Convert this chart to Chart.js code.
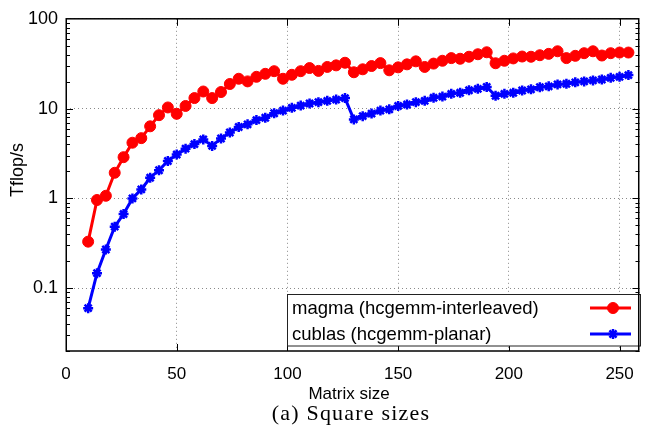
<!DOCTYPE html>
<html>
<head>
<meta charset="utf-8">
<script src="https://cdn.jsdelivr.net/npm/chart.js@4.4.1/dist/chart.umd.min.js"></script>
<style>
  html, body { margin: 0; padding: 0; background: #fff; }
  #contenedor { width: 647px; height: 443px; }
</style>
</head>
<body>
<div id="contenedor"><canvas id="grafica" width="647" height="443"></canvas></div>
<script>
// Tamaños de matriz (eje x)
const tamanos = [10, 14, 18, 22, 26, 30, 34, 38, 42, 46, 50, 54, 58, 62, 66, 70,
    74, 78, 82, 86, 90, 94, 98, 102, 106, 110, 114, 118, 122, 126, 130,
    134, 138, 142, 146, 150, 154, 158, 162, 166, 170, 174, 178, 182, 186, 190, 194,
    198, 202, 206, 210, 214, 218, 222, 226, 230, 234, 238, 242, 246, 250, 254];

// Tflop/s
const magma = [0.33, 0.96, 1.07, 1.93, 2.88, 4.17, 4.69, 6.35, 8.45, 10.3, 8.75, 10.7, 13.1, 15.5, 13.1, 15.3,
    18.8, 21.5, 20.1, 22.6, 24.4, 26.1, 21.5, 23.8, 26.1, 28.3, 26.3, 29.1, 30.3, 32.4, 25.4,
    27.4, 29.8, 32.1, 26.7, 28.8, 31.1, 33.6, 29.1, 31.7, 34.1, 36.5, 35.9, 37.8, 40.3, 42.4, 32.0,
    34.1, 36.2, 38.0, 37.8, 39.3, 40.7, 43.5, 36.5, 38.7, 41.4, 43.5, 39.0, 41.4, 42.1, 42.1];

const cublas = [0.060, 0.147, 0.27, 0.485, 0.67, 1.0, 1.26, 1.70, 2.06, 2.61, 3.08, 3.58, 4.03, 4.54, 3.84, 4.65,
    5.42, 6.24, 6.68, 7.45, 7.91, 8.88, 9.51, 10.2, 10.8, 11.4, 11.8, 12.2, 12.6, 13.1, 7.58,
    8.24, 8.81, 9.51, 9.82, 10.7, 11.1, 11.8, 12.2, 13.2, 13.6, 14.6, 15.0, 16.0, 16.6, 17.4, 13.9,
    14.6, 15.0, 15.9, 16.4, 17.3, 17.7, 18.6, 18.9, 19.6, 20.1, 20.6, 21.1, 22.0, 22.6, 23.6];

const etiquetas = ['magma (hcgemm-interleaved)', 'cublas (hcgemm-planar)'];

// Marcas de los ejes
const ticksX = [0, 50, 100, 150, 200, 250];
const ticksY = [0.1, 1, 10, 100];
const etiquetasY = ['0.1', '1', '10', '100'];

const fuente = '"Liberation Sans", Arial, sans-serif';
const tamFuente = 17;

function puntos(valores) {
    return tamanos.map((t, i) => ({ x: t, y: valores[i] }));
}

// Marco, marcas interiores, leyenda y textos
const decoracion = {
    id: 'decoracion',
    afterDatasetsDraw(chart) {
        const ctx = chart.ctx;
        const a = chart.chartArea;
        const sx = chart.scales.x;
        const sy = chart.scales.y;
        ctx.save();
        ctx.strokeStyle = '#000';
        ctx.lineWidth = 1;
        ctx.beginPath();
        // marcas en y (mayores y menores, izquierda y derecha)
        [0.01, 0.1, 1, 10].forEach(d => {
            for (let m = 1; m <= 9; m++) {
                const v = m * d;
                if (v < 0.02 || v > 100) continue;
                const py = Math.round(sy.getPixelForValue(v)) + 0.5;
                const largo = m === 1 ? 7 : 4;
                ctx.moveTo(a.left, py); ctx.lineTo(a.left + largo, py);
                ctx.moveTo(a.right, py); ctx.lineTo(a.right - largo, py);
            }
        });
        ticksX.forEach(v => {
            const px = Math.round(sx.getPixelForValue(v)) + 0.5;
            ctx.moveTo(px, a.bottom); ctx.lineTo(px, a.bottom - 7);
            ctx.moveTo(px, a.top); ctx.lineTo(px, a.top + 7);
        });
        ctx.stroke();

        // leyenda
        const lx = 287.5, ly = 294.5, lw = 353, lh = 51.5;
        ctx.fillStyle = '#fff';
        ctx.fillRect(lx, ly, lw, lh);
        ctx.strokeStyle = '#222';
        ctx.lineWidth = 1;
        ctx.strokeRect(lx, ly, lw, lh);
        ctx.font = '18.5px ' + fuente;
        ctx.textBaseline = 'middle';
        ctx.textAlign = 'left';
        chart.data.datasets.forEach((ds, i) => {
            const yy = 308 + i * 26;
            ctx.fillStyle = '#000';
            ctx.fillText(ds.label, 292, yy + 1);
            ctx.strokeStyle = ds.borderColor;
            ctx.lineWidth = 3;
            ctx.beginPath();
            ctx.moveTo(590, yy); ctx.lineTo(631, yy);
            ctx.stroke();
            ctx.fillStyle = ds.pointBackgroundColor;
            ctx.strokeStyle = ds.borderColor;
            ctx.lineWidth = ds.pointBorderWidth;
            Chart.helpers.drawPoint(ctx, {
                pointStyle: ds.pointStyle, radius: ds.pointRadius,
                borderWidth: ds.pointBorderWidth
            }, 613, yy);
        });

        // marco del área
        ctx.strokeStyle = '#000';
        ctx.lineWidth = 1.5;
        ctx.strokeRect(a.left + 0.25, a.top, a.right - a.left - 1, a.bottom - a.top);

        // títulos de ejes y pie
        ctx.fillStyle = '#000';
        ctx.textAlign = 'center';
        ctx.font = tamFuente + 'px ' + fuente;
        ctx.fillText('Matrix size', 349, 394);
        ctx.font = '18px ' + fuente;
        ctx.save();
        ctx.translate(18, 170);
        ctx.rotate(-Math.PI / 2);
        ctx.fillText('Tflop/s', 0, 0);
        ctx.restore();
        ctx.font = '22px "Liberation Serif", "Times New Roman", serif';
        ctx.letterSpacing = '1.2px';
        ctx.fillText('(a) Square sizes', 351, 414);
        ctx.restore();
    }
};

const ctx = document.getElementById('grafica').getContext('2d');
new Chart(ctx, {
    type: 'line',
    data: {
        datasets: [{
            label: etiquetas[0],
            data: puntos(magma),
            borderColor: '#ff0000',
            backgroundColor: '#ff0000',
            pointBackgroundColor: '#ff0000',
            pointStyle: 'circle',
            pointRadius: 5.5,
            pointBorderWidth: 1,
            borderWidth: 3,
            tension: 0
        }, {
            label: etiquetas[1],
            data: puntos(cublas),
            borderColor: '#0000ff',
            backgroundColor: '#0000ff',
            pointBackgroundColor: '#0000ff',
            pointStyle: 'star',
            pointRadius: 5,
            pointBorderWidth: 2.5,
            borderWidth: 3,
            tension: 0
        }]
    },
    options: {
        responsive: false,
        animation: false,
        layout: { padding: { top: 13, right: 0, left: 0, bottom: 0 } },
        plugins: {
            legend: { display: false },
            tooltip: { enabled: false }
        },
        scales: {
            x: {
                type: 'linear',
                min: 0,
                max: 259,
                afterBuildTicks: s => { s.ticks = ticksX.map(v => ({ value: v })); },
                afterFit: s => { s.height = 92; },
                ticks: {
                    autoSkip: false,
                    maxRotation: 0,
                    padding: 13,
                    color: '#000',
                    font: { family: fuente, size: tamFuente }
                },
                grid: { color: '#8a8a8a', lineWidth: 1, drawTicks: false },
                border: { display: false, dash: [1, 3] }
            },
            y: {
                type: 'logarithmic',
                min: 0.02,
                max: 100,
                afterBuildTicks: s => { s.ticks = ticksY.map(v => ({ value: v })); },
                afterFit: s => { s.width = 66; },
                ticks: {
                    padding: 8,
                    color: '#000',
                    font: { family: fuente, size: 18 },
                    callback: (v, i) => etiquetasY[i]
                },
                grid: { color: '#8a8a8a', lineWidth: 1, drawTicks: false },
                border: { display: false, dash: [1, 3] }
            }
        }
    },
    plugins: [decoracion]
});
</script>
</body>
</html>
